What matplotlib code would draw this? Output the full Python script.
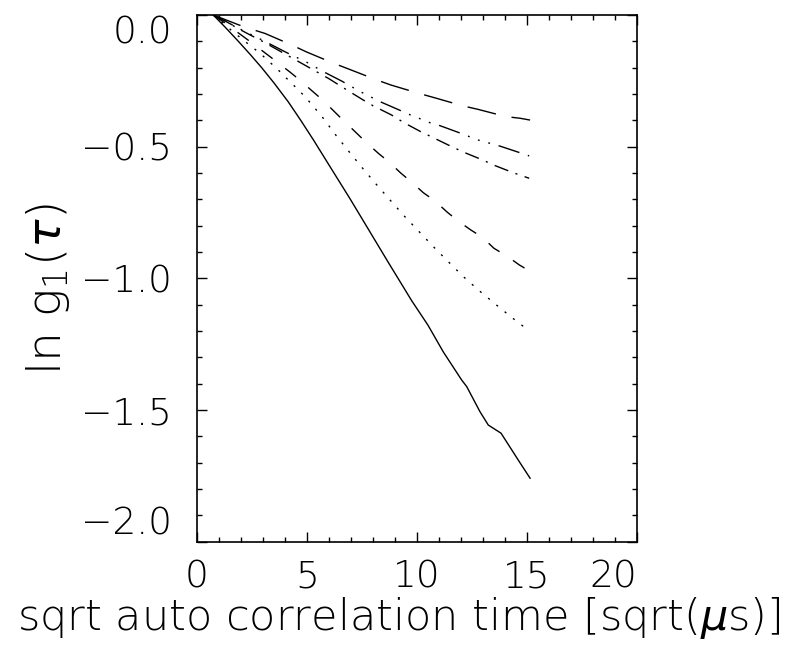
import matplotlib
matplotlib.use('Agg')
import matplotlib.pyplot as plt
from matplotlib.ticker import MultipleLocator

plt.rcParams['font.family'] = ['DejaVu Sans']
plt.rcParams['font.weight'] = 'normal'
plt.rcParams['mathtext.fontset'] = 'custom'
plt.rcParams['mathtext.rm'] = 'DejaVu Sans:light'
plt.rcParams['mathtext.it'] = 'DejaVu Sans:italic:light'
plt.rcParams['mathtext.sf'] = 'DejaVu Sans:light'
plt.rcParams['lines.scale_dashes'] = False

# ---- data ----
x_solid = [0.74, 1.3, 1.88, 2.4, 2.94, 3.5, 4.15, 4.7, 5.29, 6.1, 6.95, 7.8, 8.7, 9.76,
           10.5, 11.2, 12.03, 12.26, 12.86, 13.24, 13.82, 14.68, 15.14]
y_solid = [0, -0.048, -0.1, -0.148, -0.2, -0.258, -0.33, -0.398, -0.474, -0.583, -0.697,
           -0.815, -0.94, -1.085, -1.178, -1.28, -1.386, -1.411, -1.506, -1.557, -1.588,
           -1.70, -1.759]

x_dotted = [0.74, 1.3, 1.88, 2.4, 2.86, 3.32, 3.77, 4.15, 4.53, 4.91, 5.29, 5.71, 6.3, 6.95,
            7.56, 8.17, 8.8, 9.45, 10.1, 10.77, 11.45, 12.1, 12.83, 13.55, 14.3, 15.09]
y_dotted = [0, -0.04, -0.08, -0.115, -0.145, -0.18, -0.215, -0.247, -0.278, -0.31,
            -0.347, -0.389, -0.455, -0.523, -0.585, -0.645, -0.705, -0.766, -0.823, -0.882,
            -0.939, -0.993, -1.047, -1.097, -1.148, -1.199]

x_dashed = [0.74, 1.3, 1.88, 2.4, 3.0, 3.6, 4.23, 4.73, 5.2, 5.74, 6.5, 7.26, 7.68, 8.24,
            8.74, 9.26, 9.76, 10.29, 10.82, 11.35, 11.85, 12.44, 12.97, 13.5, 14.08, 14.65,
            15.17]
y_dashed = [0, -0.032, -0.068, -0.1, -0.138, -0.176, -0.217, -0.251, -0.286, -0.325,
            -0.388, -0.449, -0.483, -0.525, -0.559, -0.6, -0.635, -0.675, -0.706, -0.747,
            -0.781, -0.816, -0.844, -0.886, -0.915, -0.949, -0.975]

x_dashdot = [0.74, 1.3, 1.88, 2.4, 3.0, 4.0, 5.0, 6.0, 6.8, 7.56, 8.01, 8.85, 9.41, 10.17,
             10.74, 11.58, 12.18, 12.97, 13.55, 14.38, 15.1]
y_dashdot = [0, -0.024, -0.052, -0.075, -0.101, -0.148, -0.195, -0.242, -0.284, -0.323,
             -0.345, -0.38, -0.409, -0.443, -0.466, -0.5, -0.523, -0.55, -0.572, -0.599,
             -0.62]

x_dash3dot = [0.74, 1.3, 1.88, 2.4, 3.01, 4.08, 5.0, 5.74, 6.58, 7.4, 8.32, 9.2, 9.6,
              10.59, 10.97, 11.92, 12.79, 13.74, 14.68, 15.1]
y_dash3dot = [0, -0.024, -0.05, -0.072, -0.097, -0.143, -0.18, -0.215, -0.251, -0.29,
              -0.329, -0.361, -0.376, -0.409, -0.418, -0.447, -0.475, -0.497, -0.523,
              -0.535]

x_longdash = [0.74, 1.3, 1.88, 2.4, 3.09, 4.31, 4.97, 6.2, 6.92, 8.18, 8.82, 10.06, 10.79,
              12.08, 12.76, 14.05, 14.68, 15.14]
y_longdash = [0, -0.018, -0.037, -0.052, -0.07, -0.114, -0.14, -0.183, -0.206, -0.247,
              -0.266, -0.297, -0.314, -0.345, -0.358, -0.386, -0.392, -0.399]

x_ticks = [0, 5, 10, 15, 20]
x_ticklabels = ['0', '5', '10', '15', '20']
y_ticks = [-2.0, -1.5, -1.0, -0.5, 0.0]
y_ticklabels = ['\u22122.0', '\u22121.5', '\u22121.0', '\u22120.5', '0.0']

# ---- figure ----
fig = plt.figure(figsize=(8.03, 6.57), dpi=100)
ax = fig.add_axes([197 / 803, 1 - 541.7 / 657, 440 / 803, 526.7 / 657])

lw = 1.0
ax.plot(x_solid, y_solid, color='black', lw=lw, ls='-')
ax.plot(x_dotted, y_dotted, color='black', lw=lw, dashes=(1.5, 6.2))
ax.plot(x_dashed, y_dashed, color='black', lw=lw, dashes=(10, 11.5))
ax.plot(x_dashdot, y_dashdot, color='black', lw=lw, dashes=(10.5, 5.5, 1.5, 5.5))
ax.plot(x_dash3dot, y_dash3dot, color='black', lw=lw,
        dashes=(15.8, 6.4, 1.3, 6.4, 1.3, 6.4, 1.3, 6.4))
ax.plot(x_longdash, y_longdash, color='black', lw=lw, dashes=(21, 11.5))

ax.set_xlim(0, 20)
ax.set_ylim(-2.0, 0.0)
ax.set_xticks(x_ticks)
ax.set_xticklabels(x_ticklabels)
ax.set_yticks(y_ticks)
ax.set_yticklabels(y_ticklabels)
ax.xaxis.set_minor_locator(MultipleLocator(1))
ax.yaxis.set_minor_locator(MultipleLocator(0.1))

ax.tick_params(which='both', direction='in', top=True, right=True,
               color='black', width=1.0, labelsize=27)
ax.tick_params(which='major', length=7)
ax.tick_params(which='minor', length=3.5)
ax.tick_params(axis='x', pad=13)
ax.tick_params(axis='y', pad=18)
for s in ax.spines.values():
    s.set_linewidth(1.2)

# IDL-style: end labels kept inside the axis extent
ylabs = ax.get_yticklabels()
ylabs[-1].set_va('top')
ylabs[0].set_va('bottom')
xlabs = ax.get_xticklabels()
xlabs[-1].set_ha('right')
for t in ylabs + xlabs:
    t.set_fontweight('light')

ax.set_xlabel('sqrt auto correlation time [sqrt($\\mu$s)]', fontsize=31,
              fontweight='light')
ax.xaxis.set_label_coords(0.458, -0.102)
ax.set_ylabel('ln g$_1$($\\tau$)', fontsize=34, fontweight='light')
ax.yaxis.set_label_coords(-0.285, 0.48)

fig.savefig('out.png', dpi=100)
